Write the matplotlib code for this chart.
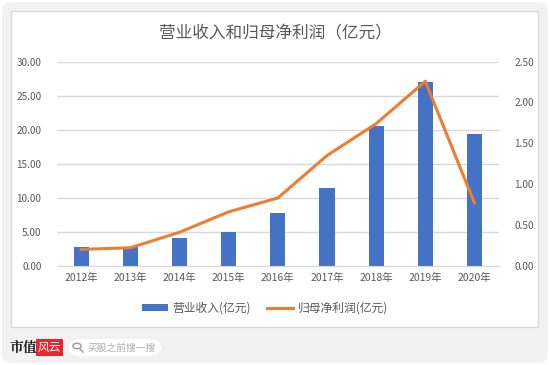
import matplotlib.pyplot as plt
from matplotlib.patches import FancyBboxPatch, Rectangle, Circle
from matplotlib.lines import Line2D

plt.rcParams['font.family'] = ['Noto Sans CJK SC', 'DejaVu Sans']

years = ["2012年", "2013年", "2014年", "2015年", "2016年", "2017年", "2018年", "2019年", "2020年"]
revenue = [2.7, 2.8, 4.1, 4.9, 7.7, 11.5, 20.5, 27.0, 19.4]
net_profit = [0.20, 0.22, 0.41, 0.66, 0.83, 1.35, 1.74, 2.26, 0.77]
left_ticks = [0, 5, 10, 15, 20, 25, 30]
right_ticks = [0, 0.5, 1.0, 1.5, 2.0, 2.5]

txt = "#595959"
fig = plt.figure(figsize=(5.5, 3.65), dpi=100)
fig.patch.set_facecolor("white")

# 外側の灰色背景と白いパネル
fig.patches.append(FancyBboxPatch((0.004, 0.006), 0.992, 0.988, boxstyle="round,pad=0,rounding_size=0.02",
                                  transform=fig.transFigure, fc="#f2f2f2", ec="none", zorder=-3))
fig.patches.append(Rectangle((11 / 550, 1 - 327 / 365), 527 / 550, 316 / 365, transform=fig.transFigure,
                             fc="white", ec="#d9d9d9", lw=1, zorder=-2))

ax = fig.add_axes([56.7 / 550, 1 - 265.7 / 365, 442.3 / 550, 204 / 365])
ax.set_facecolor("none")
x = range(len(years))
ax.bar(x, revenue, width=0.31, color="#4472C4", zorder=2, label="营业收入(亿元)")
ax.set_xlim(-0.5, len(years) - 0.5)
ax.set_ylim(0, 30)
ax.set_yticks(left_ticks)
ax.set_yticklabels([f"{v:.2f}" for v in left_ticks], fontweight="medium")
ax.set_xticks(list(x))
ax.set_xticklabels(years, fontweight="medium")
ax.grid(axis="y", color="#d9d9d9", lw=1, zorder=0)
for s in ["top", "right", "left"]:
    ax.spines[s].set_visible(False)
ax.spines["bottom"].set_color("#d9d9d9")
ax.tick_params(length=0, labelsize=7.2, labelcolor=txt)
ax.tick_params(axis="y", pad=11)
ax.tick_params(axis="x", pad=5, labelsize=7.5)

ax2 = ax.twinx()
ax2.plot(x, net_profit, color="#ED7D31", lw=2.2, zorder=3, label="归母净利润(亿元)")
ax2.set_ylim(0, 2.5)
ax2.set_yticks(right_ticks)
ax2.set_yticklabels([f"{v:.2f}" for v in right_ticks], fontweight="medium")
for s in ax2.spines.values():
    s.set_visible(False)
ax2.tick_params(length=0, labelsize=7.2, labelcolor=txt, pad=11)

fig.text(0.5, 1 - 34 / 365, "营业收入和归母净利润（亿元）", ha="center", va="center", fontsize=12, color=txt)

handles = [Rectangle((0, 0), 1, 1, fc="#4472C4"), Line2D([], [], color="#ED7D31", lw=2.2)]
fig.legend(handles, ["营业收入(亿元)", "归母净利润(亿元)"], loc="center", bbox_to_anchor=(265 / 550, 1 - 308 / 365),
           ncol=2, frameon=False, fontsize=8.5, labelcolor=txt, handlelength=2.2, handleheight=0.5,
           columnspacing=1.4, handletextpad=0.35)

# フッター
fig.text(10 / 550, 1 - 348 / 365, "市值", fontsize=10, fontweight="bold", color="#222222", va="center",
         family=["Noto Serif CJK SC", "Noto Sans CJK SC"])
fig.patches.append(Rectangle((36 / 550, 1 - 356 / 365), 27 / 550, 17 / 365, transform=fig.transFigure,
                             fc="#e8262d", ec="none"))
fig.text(49.5 / 550, 1 - 347.5 / 365, "风云", fontsize=8.5, style="italic", color="white", ha="center", va="center")
fig.patches.append(FancyBboxPatch((69 / 550, 1 - 356 / 365), 92 / 550, 17 / 365,
                                  boxstyle="round,pad=0,rounding_size=0.023", transform=fig.transFigure,
                                  fc="white", ec="none"))
fig.patches.append(Circle((77 / 550, 1 - 346 / 365), 0.0075, transform=fig.transFigure, fc="none",
                          ec="#999999", lw=1))
fig.lines.append(Line2D([80 / 550, 83 / 550], [1 - 349 / 365, 1 - 352 / 365], transform=fig.transFigure,
                        color="#999999", lw=1))
fig.text(87 / 550, 1 - 347.5 / 365, "买股之前搜一搜", fontsize=7, color="#aaaaaa", va="center")

fig.savefig("out.png", dpi=100)
